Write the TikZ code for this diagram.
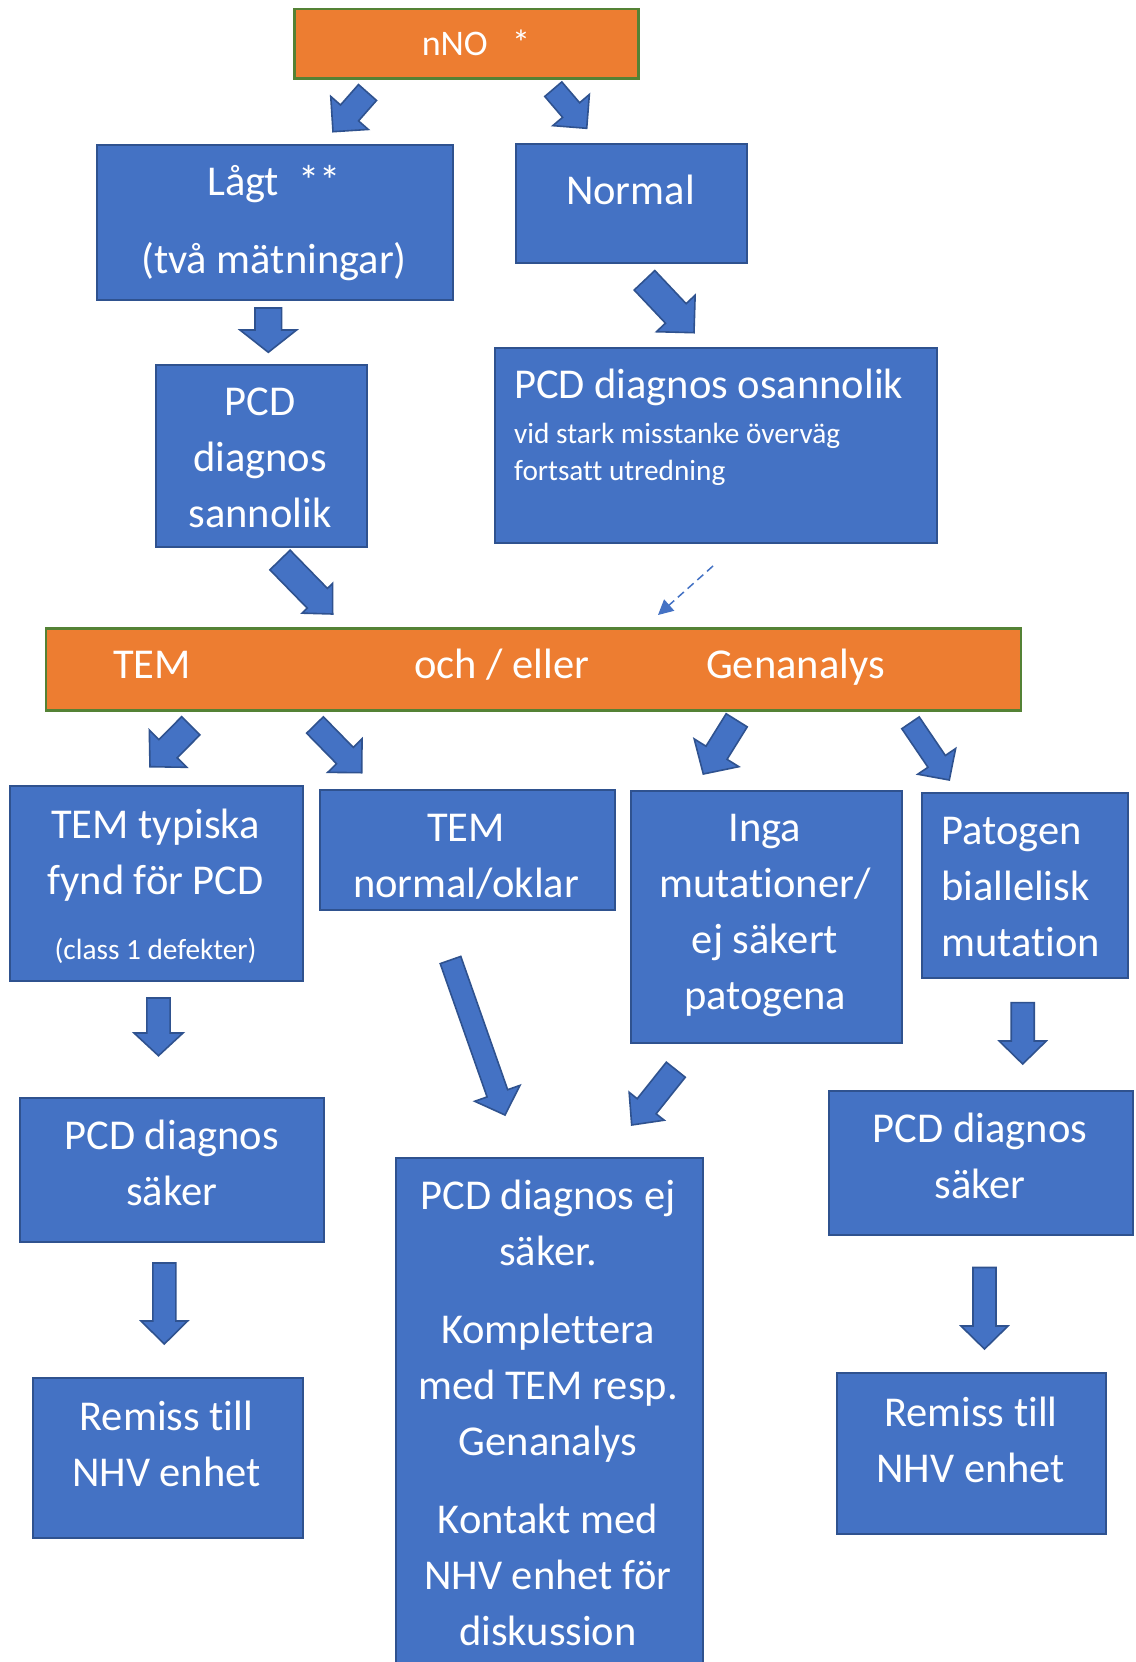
\documentclass[tikz,border=0pt]{standalone}
\usepackage{fontspec}
\setmainfont{Carlito}[Ligatures=NoCommon]
\usetikzlibrary{calc,arrows.meta}
\definecolor{bfill}{HTML}{4472C4}
\definecolor{bline}{HTML}{2F528F}
\definecolor{ofill}{HTML}{ED7D31}
\definecolor{oline}{HTML}{548235}
\newcommand{\bigtxt}{\fontsize{42.5}{56}\selectfont}
\newcommand{\smalltxt}{\fontsize{29.3}{37}\selectfont}
\newcommand{\nnotxt}{\fontsize{36}{44}\selectfont}
% box by corners: name, x1, y1, x2, y2, style
\newcommand{\flowbox}[6]{\node[#6, anchor=north west, minimum width={(#4-#2)*1pt}, minimum height={(#5-#3)*1pt}] (#1) at (#2,#3) {};}
% block arrow: name, tail coord, tip coord, half shaft width, half head width, head length
\newcommand{\blockarr}[6]{%
 \coordinate (#1b) at ($(#3)!#6pt!(#2)$);
 \draw[barrow] ($(#2)!#4pt!90:(#3)$) -- ($(#1b)!#4pt!90:(#3)$) -- ($(#1b)!#5pt!90:(#3)$) -- (#3) -- ($(#1b)!#5pt!-90:(#3)$) -- ($(#1b)!#4pt!-90:(#3)$) -- ($(#2)!#4pt!-90:(#3)$) -- cycle;}
\begin{document}
\begin{tikzpicture}[x=1pt,y=-1pt,
  bluebox/.style={draw=bline, fill=bfill, line width=2pt, inner sep=0pt},
  orangebox/.style={draw=oline, fill=ofill, line width=2.5pt, inner sep=0pt},
  barrow/.style={draw=bline, fill=bfill, line width=1.6pt, line join=miter},
  txt/.style={text=white, inner sep=0pt, align=center, font=\bigtxt},
  stxt/.style={txt, font=\smalltxt},
  dasharrow/.style={draw=bfill, line width=1.5pt, dash pattern=on 8pt off 5pt, -{Triangle[length=15pt,width=15pt]}}]
\useasboundingbox (0,0) rectangle (1135,1662);
\clip (0,0) rectangle (1135,1662);
\fill[white] (0,0) rectangle (1135,1662);

% boxes
\flowbox{nno}{293}{8}{637}{77}{orangebox}
\flowbox{lagt}{96.4}{144}{451.5}{299}{bluebox}
\flowbox{normal}{515}{143}{746}{262}{bluebox}
\flowbox{sann}{154.7}{363.5}{365.6}{546}{bluebox}
\flowbox{osan}{494}{347}{936}{541.6}{bluebox}
\flowbox{bar}{44.5}{627}{1019.5}{709}{orangebox}
\flowbox{temtyp}{9}{785}{302}{980}{bluebox}
\flowbox{temnorm}{319}{788.5}{613.6}{909}{bluebox}
\flowbox{inga}{629.5}{789.5}{900.8}{1041.8}{bluebox}
\flowbox{patogen}{921}{791.7}{1126.6}{977}{bluebox}
\flowbox{saker1}{19}{1097}{323}{1241}{bluebox}
\flowbox{ejsaker}{395}{1157}{701.6}{1690}{bluebox}
\flowbox{saker2}{827.7}{1089.5}{1131.9}{1233.6}{bluebox}
\flowbox{remiss1}{31.8}{1376.7}{302}{1536.7}{bluebox}
\flowbox{remiss2}{836}{1372}{1105}{1532.5}{bluebox}

% texts
\node[txt, font=\nnotxt] (tnno) at (476,47) {\strut nNO\ \ \ *};
\node[txt] (tlagt) at (274,223) {\strut Lågt\ \ **\\[22pt]\strut (två mätningar)};
\node[txt] (tnormal) at (630.5,193) {\strut Normal};
\node[txt] (tsann) at (260,460.5) {\strut PCD\\\strut diagnos\\\strut sannolik};
\node[txt, anchor=west, align=left] (tosan1) at (514,387) {\strut PCD diagnos osannolik};
\node[stxt, anchor=west, align=left] (tosan2) at (514,455) {\strut vid stark misstanke överväg\\\strut fortsatt utredning};
\node[txt] (ttem) at (152,667.5) {\strut TEM};
\node[txt] (toch) at (501.8,667.5) {\strut och / eller};
\node[txt] (tgen) at (795.4,667.5) {\strut Genanalys};
\node[txt] (ttyp1) at (155.5,855.4) {\strut TEM typiska\\\strut fynd för PCD};
\node[stxt] (ttyp2) at (155.5,952) {\strut (class 1 defekter)};
\node[txt] (tnorm) at (466,858) {\strut TEM\\\strut normal/oklar};
\node[txt] (tinga) at (765,914) {\strut Inga\\\strut mutationer/\\\strut ej säkert\\\strut patogena};
\node[txt, anchor=west, align=left] (tpat) at (941,889) {\strut Patogen\\\strut biallelisk\\\strut mutation};
\node[txt] (tsak1) at (171.7,1166) {\strut PCD diagnos\\\strut säker};
\node[txt] (tej) at (548,1416) {\strut PCD diagnos ej\\\strut säker.\\[22pt]\strut Komplettera\\\strut med TEM resp.\\\strut Genanalys\\[22pt]\strut Kontakt med\\\strut NHV enhet för\\\strut diskussion};
\node[txt] (tsak2) at (980,1159) {\strut PCD diagnos\\\strut säker};
\node[txt] (trem1) at (166.4,1447.5) {\strut Remiss till\\\strut NHV enhet};
\node[txt] (trem2) at (970.8,1443) {\strut Remiss till\\\strut NHV enhet};

% arrow end points
\coordinate (a1t) at (367.5,92.5);   \coordinate (a1h) at (333,131.7);
\coordinate (a2t) at (553.3,89.2);   \coordinate (a2h) at (586.7,128.3);
\coordinate (a3t) at (268.3,308);    \coordinate (a3h) at (268.3,352.3);
\coordinate (a4t) at (644.5,280.3);  \coordinate (a4h) at (694,332.7);
\coordinate (a5t) at (280,560);      \coordinate (a5h) at (332.7,614);
\coordinate (d1t) at (713,566);      \coordinate (d1h) at (658,615);
\coordinate (a7t) at (190.8,725.8);  \coordinate (a7h) at (150,766.7);
\coordinate (a8t) at (315,725);      \coordinate (a8h) at (361.7,772.7);
\coordinate (a9t) at (736.7,720.3);  \coordinate (a9h) at (703.3,774);
\coordinate (a10t) at (910.5,722.8); \coordinate (a10h) at (949.3,780);
\coordinate (a11t) at (158.5,998);   \coordinate (a11h) at (158.5,1055.7);
\coordinate (a12t) at (450.5,960);   \coordinate (a12h) at (505,1115);
\coordinate (a13t) at (675.8,1069.7);\coordinate (a13h) at (631.7,1125);
\coordinate (a14t) at (1022.7,1002.6);\coordinate (a14h) at (1022.7,1064);
\coordinate (a15t) at (164.3,1263);  \coordinate (a15h) at (164.3,1344);
\coordinate (a16t) at (984.5,1267.5);\coordinate (a16h) at (984.5,1349);

% block arrows
\blockarr{a1}{a1t}{a1h}{12}{25}{25}
\blockarr{a2}{a2t}{a2h}{11.2}{24}{24}
\blockarr{a3}{a3t}{a3h}{13.3}{28.3}{22.3}
\blockarr{a4}{a4t}{a4h}{14.2}{26.6}{26.5}
\blockarr{a5}{a5t}{a5h}{14.1}{21.3}{22}
\blockarr{a7}{a7t}{a7h}{12.9}{26.4}{25.5}
\blockarr{a8}{a8t}{a8h}{11.7}{24}{24}
\blockarr{a9}{a9t}{a9h}{12.4}{26.3}{25}
\blockarr{a10}{a10t}{a10h}{10.5}{22.9}{22.5}
\blockarr{a11}{a11t}{a11h}{11.6}{24.5}{22.7}
\blockarr{a12}{a12t}{a12h}{10.9}{24}{23}
\blockarr{a13}{a13t}{a13h}{12.1}{22.4}{24}
\blockarr{a14}{a14t}{a14h}{11.5}{23.5}{23}
\blockarr{a15}{a15t}{a15h}{11.5}{23.3}{23}
\blockarr{a16}{a16t}{a16h}{11.5}{23.5}{23}

% dashed arrow
\draw[dasharrow] (d1t) -- (d1h);
\end{tikzpicture}
\end{document}
